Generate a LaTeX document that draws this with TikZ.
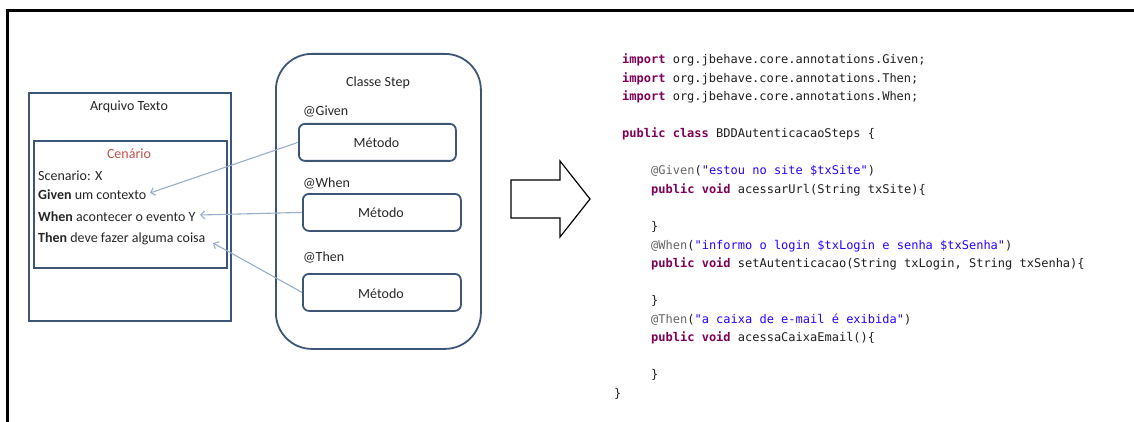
\documentclass[tikz,border=0pt]{standalone}
\usepackage{fontspec}
\setmainfont{Carlito}
\newfontfamily\codefont{DejaVu Sans Mono}
\usetikzlibrary{arrows.meta}

\definecolor{boxline}{HTML}{3E5675}
\definecolor{linkline}{HTML}{97AFCB}
\definecolor{scenred}{HTML}{C0504D}
\definecolor{jkwcol}{HTML}{7F0055}
\definecolor{jstrcol}{HTML}{2A00FF}
\definecolor{janncol}{HTML}{646464}
\definecolor{codetext}{HTML}{1E1E1E}

% Java syntax colouring
\newcommand\jkw[1]{{\bfseries\color{jkwcol}#1}}
\newcommand\jstr[1]{{\color{jstrcol}#1}}
\newcommand\jann[1]{{\color{janncol}#1}}

\tikzset{
  plainbox/.style={draw=boxline, line width=1.8pt, inner sep=0pt, anchor=north west},
  classbox/.style={plainbox, rounded corners=36pt},
  methodbox/.style={plainbox, rounded corners=6pt, minimum width=157pt, minimum height=37pt},
  lbl/.style={inner sep=0pt, font=\fontsize{14}{16}\selectfont, text=black!85},
  codeline/.style={inner sep=0pt, anchor=base west, font=\codefont\fontsize{12}{14}\selectfont, text=codetext},
  link/.style={draw=linkline, line width=1.1pt, -{Straight Barb[length=4pt,width=8pt]}},
}

\begin{document}
\begin{tikzpicture}[x=1pt,y=-1pt]
\useasboundingbox (0,0) rectangle (1134,422);

% outer frame (top and left edges)
\draw[line width=3pt] (7,422) -- (7,11) -- (1134,11);

% text file with its scenario
\node[plainbox, minimum width=202pt, minimum height=228pt] (arquivo) at (28,92) {};
\node[lbl, anchor=base] (arqtitle) at (129,111) {Arquivo Texto};
\node[plainbox, minimum width=193pt, minimum height=127pt] (cenario) at (33,140) {};
\node[lbl, anchor=base, text=scenred] (centitle) at (129,159) {Cenário};
\node[lbl, anchor=base west] (scen) at (38,180) {Scenario: X};
\node[lbl, anchor=base west] (given) at (38,200) {\textbf{Given} um contexto};
\node[lbl, anchor=base west] (when) at (38,221) {\textbf{When} acontecer o evento Y};
\node[lbl, anchor=base west] (then) at (38,242) {\textbf{Then} deve fazer alguma coisa};

% step class with its annotated methods
\node[classbox, minimum width=205pt, minimum height=295pt] (classe) at (275,53) {};
\node[lbl, anchor=base] (classtitle) at (378,87) {Classe Step};
\node[lbl, anchor=base west] (agiven) at (303,116) {@Given};
\node[methodbox] (m1) at (298,123) {};
\node[lbl, anchor=base] at (376.5,148) {Método};
\node[lbl, anchor=base west] (awhen) at (303,187) {@When};
\node[methodbox, minimum width=158pt] (m2) at (302,193) {};
\node[lbl, anchor=base] at (381,217) {Método};
\node[lbl, anchor=base west] (athen) at (303,261) {@Then};
\node[methodbox, minimum width=158pt] (m3) at (302,273) {};
\node[lbl, anchor=base] at (381,298) {Método};

% links from methods to scenario steps
\coordinate (tgiven) at (150,193);
\coordinate (twhen) at (200,215);
\coordinate (tthen) at (213,243);
\draw[link] (m1.west) -- (tgiven);
\draw[link] (m2.west) -- (twhen);
\draw[link] (m3.west) -- (tthen);

% block arrow
\draw[line width=1.2pt, fill=white, line join=miter]
  (511,180) -- (560,180) -- (560,161) -- (590,199) -- (560,237) -- (560,218) -- (511,218) -- cycle;

% Java step class
\node[codeline] (c1) at (622,64) {\jkw{import} org.jbehave.core.annotations.Given;};
\node[codeline] (c2) at (622,82.5) {\jkw{import} org.jbehave.core.annotations.Then;};
\node[codeline] (c3) at (622,101) {\jkw{import} org.jbehave.core.annotations.When;};
\node[codeline] (c5) at (622,138) {\jkw{public} \jkw{class} BDDAutenticacaoSteps \{};
\node[codeline] (c7) at (651,175) {\jann{@Given}(\jstr{"estou no site \$txSite"})};
\node[codeline] (c8) at (651,193.5) {\jkw{public} \jkw{void} acessarUrl(String txSite)\{};
\node[codeline] (c10) at (651,230.5) {\}};
\node[codeline] (c11) at (651,249) {\jann{@When}(\jstr{"informo o login \$txLogin e senha \$txSenha"})};
\node[codeline] (c12) at (651,267.5) {\jkw{public} \jkw{void} setAutenticacao(String txLogin, String txSenha)\{};
\node[codeline] (c14) at (651,304.5) {\}};
\node[codeline] (c15) at (651,323) {\jann{@Then}(\jstr{"a caixa de e-mail é exibida"})};
\node[codeline] (c16) at (651,341.5) {\jkw{public} \jkw{void} acessaCaixaEmail()\{};
\node[codeline] (c18) at (651,378.5) {\}};
\node[codeline] (c19) at (614,397) {\}};
\end{tikzpicture}
\end{document}
